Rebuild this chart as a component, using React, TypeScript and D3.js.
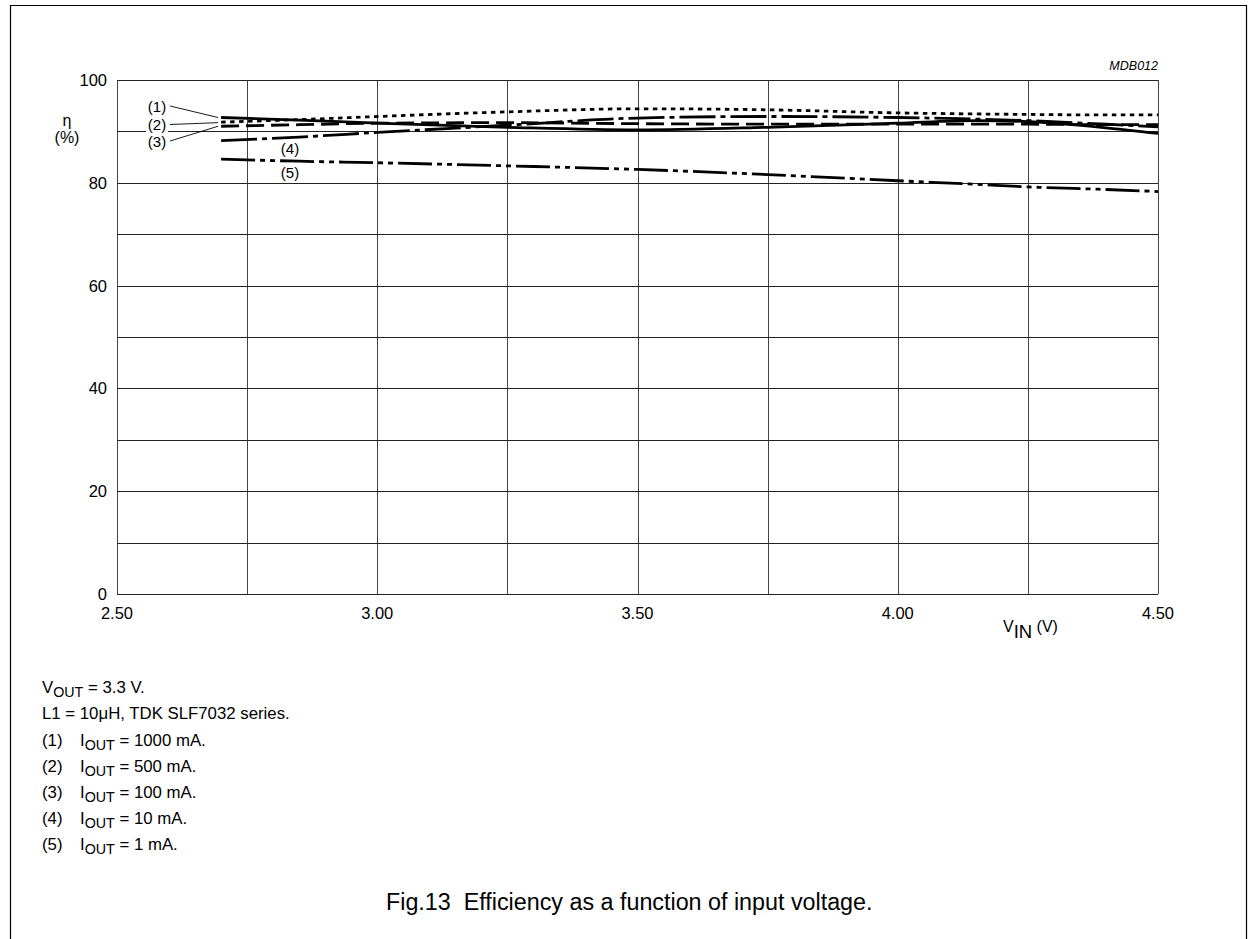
import React from 'react';
import * as d3 from 'd3';

// input voltage samples (V)
const vin = [2.7, 2.85, 3.0, 3.25, 3.5, 3.75, 4.0, 4.15, 4.25, 4.4, 4.5];

// efficiency (%) per output current
const eff1000 = [92.7, 92.2, 91.6, 90.8, 90.3, 90.8, 91.6, 92.1, 91.9, 90.7, 89.6];
const eff500 = [91.8, 92.3, 92.9, 93.8, 94.4, 94.2, 93.6, 93.4, 93.3, 93.2, 93.2];
const eff100 = [91.0, 91.3, 91.6, 91.7, 91.5, 91.4, 91.4, 91.4, 91.4, 91.3, 91.3];
const eff10 = [88.2, 88.9, 89.8, 91.2, 92.6, 92.9, 92.7, 92.4, 92.1, 91.4, 90.9];
const eff1 = [84.6, 84.2, 83.9, 83.3, 82.6, 81.6, 80.4, 79.7, 79.2, 78.7, 78.3];

const curveLabels = ['(1)', '(2)', '(3)', '(4)', '(5)'];
const currents = ['1000 mA.', '500 mA.', '100 mA.', '10 mA.', '1 mA.'];

const xTickLabels = [2.5, 3.0, 3.5, 4.0, 4.5];
const yTickLabels = [0, 20, 40, 60, 80, 100];

const W = 1248;
const H = 939;
const left = 117, right = 1158, top = 80, bottom = 594;
const font = '"Liberation Sans", Arial, Helvetica, sans-serif';

export default function App() {
  const x = d3.scaleLinear().domain([2.5, 4.5]).range([left, right]);
  const y = d3.scaleLinear().domain([0, 100]).range([bottom, top]);

  const line = d3.line<number>()
    .x((d, i) => x(vin[i]))
    .y(d => y(d))
    .curve(d3.curveMonotoneX);

  const series = [
    { vals: eff1000, dash: undefined },
    { vals: eff500, dash: '4.5,4.5' },
    { vals: eff100, dash: '18,7' },
    { vals: eff10, dash: '36,5,5,5' },
    { vals: eff1, dash: '34,5,5,5,5,5' },
  ];

  const xGrid = d3.range(2.5, 4.5001, 0.25);
  const yGrid = d3.range(0, 100.001, 10);

  const x0 = x(vin[0]);
  const leaderStart = [106, 124.5, 141];
  const leaderEnd = [y(eff1000[0]), y(eff500[0]) + 0.5, y(eff100[0])];

  const noteY = [687, 713, 740, 766, 792, 818, 844];
  const nf = 16.8;

  return (
    <svg width={W} height={H} style={{ position: 'absolute', left: 0, top: 0 }}
      fontFamily={font}>
      <rect x={0} y={0} width={W} height={H} fill="#fff" />
      {/* outer frame */}
      <path d={`M10.5,${H + 10} V5.5 H1246.5 V${H + 10}`} fill="none" stroke="#000" strokeWidth={1.2} />

      {/* grid */}
      {xGrid.map(v => (
        <line key={'gx' + v} x1={Math.round(x(v)) + 0.5} x2={Math.round(x(v)) + 0.5}
          y1={top} y2={bottom} stroke="#444" strokeWidth={1} />
      ))}
      {yGrid.map(v => (
        <line key={'gy' + v} x1={left} x2={right} y1={Math.round(y(v)) + 0.5}
          y2={Math.round(y(v)) + 0.5} stroke="#222" strokeWidth={1} />
      ))}

      {/* curves */}
      {series.map((s, i) => (
        <path key={'c' + i} d={line(s.vals) || ''} fill="none" stroke="#000"
          strokeWidth={2.8} strokeDasharray={s.dash} />
      ))}

      {/* curve labels (1)-(3) with leaders */}
      <rect x={146} y={96} width={22} height={54} fill="#fff" />
      {[0, 1, 2].map(i => (
        <g key={'lab' + i}>
          <text x={157} y={leaderStart[i] + 5.5} fontSize={15} textAnchor="middle">{curveLabels[i]}</text>
          <line x1={170} y1={leaderStart[i]} x2={x0 - 3} y2={leaderEnd[i]} stroke="#000" strokeWidth={0.9} />
        </g>
      ))}
      <text x={290} y={153.5} fontSize={15} textAnchor="middle">{curveLabels[3]}</text>
      <text x={290} y={177.5} fontSize={15} textAnchor="middle">{curveLabels[4]}</text>

      {/* y axis labels */}
      {yTickLabels.map(v => (
        <text key={'yt' + v} x={107} y={y(v) + 6} fontSize={16.5} textAnchor="end">{v}</text>
      ))}
      <text x={67} y={126} fontSize={16} textAnchor="middle">η</text>
      <text x={67} y={143} fontSize={16} textAnchor="middle">(%)</text>

      {/* x axis labels */}
      {xTickLabels.map(v => (
        <text key={'xt' + v} x={x(v)} y={619} fontSize={16.5} textAnchor="middle">{v.toFixed(2)}</text>
      ))}
      <text x={1003} y={632} fontSize={16}>
        V<tspan fontSize={18.5} dy={6}>IN</tspan><tspan dy={-6}> (V)</tspan>
      </text>

      <text x={1158} y={70} fontSize={12.5} fontStyle="italic" textAnchor="end">MDB012</text>

      {/* notes */}
      <text x={42} y={noteY[0] + 6} fontSize={nf}>
        V<tspan fontSize={nf * 0.85} dy={4}>OUT</tspan><tspan dy={-4}> = 3.3 V.</tspan>
      </text>
      <text x={42} y={noteY[1] + 6} fontSize={nf}>L1 = 10μH, TDK SLF7032 series.</text>
      {currents.map((c, i) => (
        <g key={'n' + i}>
          <text x={42} y={noteY[i + 2] + 6} fontSize={nf}>{curveLabels[i]}</text>
          <text x={80} y={noteY[i + 2] + 6} fontSize={nf}>
            I<tspan fontSize={nf * 0.85} dy={4}>OUT</tspan><tspan dy={-4}> = {c}</tspan>
          </text>
        </g>
      ))}

      <text x={386} y={910} fontSize={23.3} style={{ whiteSpace: 'pre' }}>Fig.13  Efficiency as a function of input voltage.</text>
    </svg>
  );
}
